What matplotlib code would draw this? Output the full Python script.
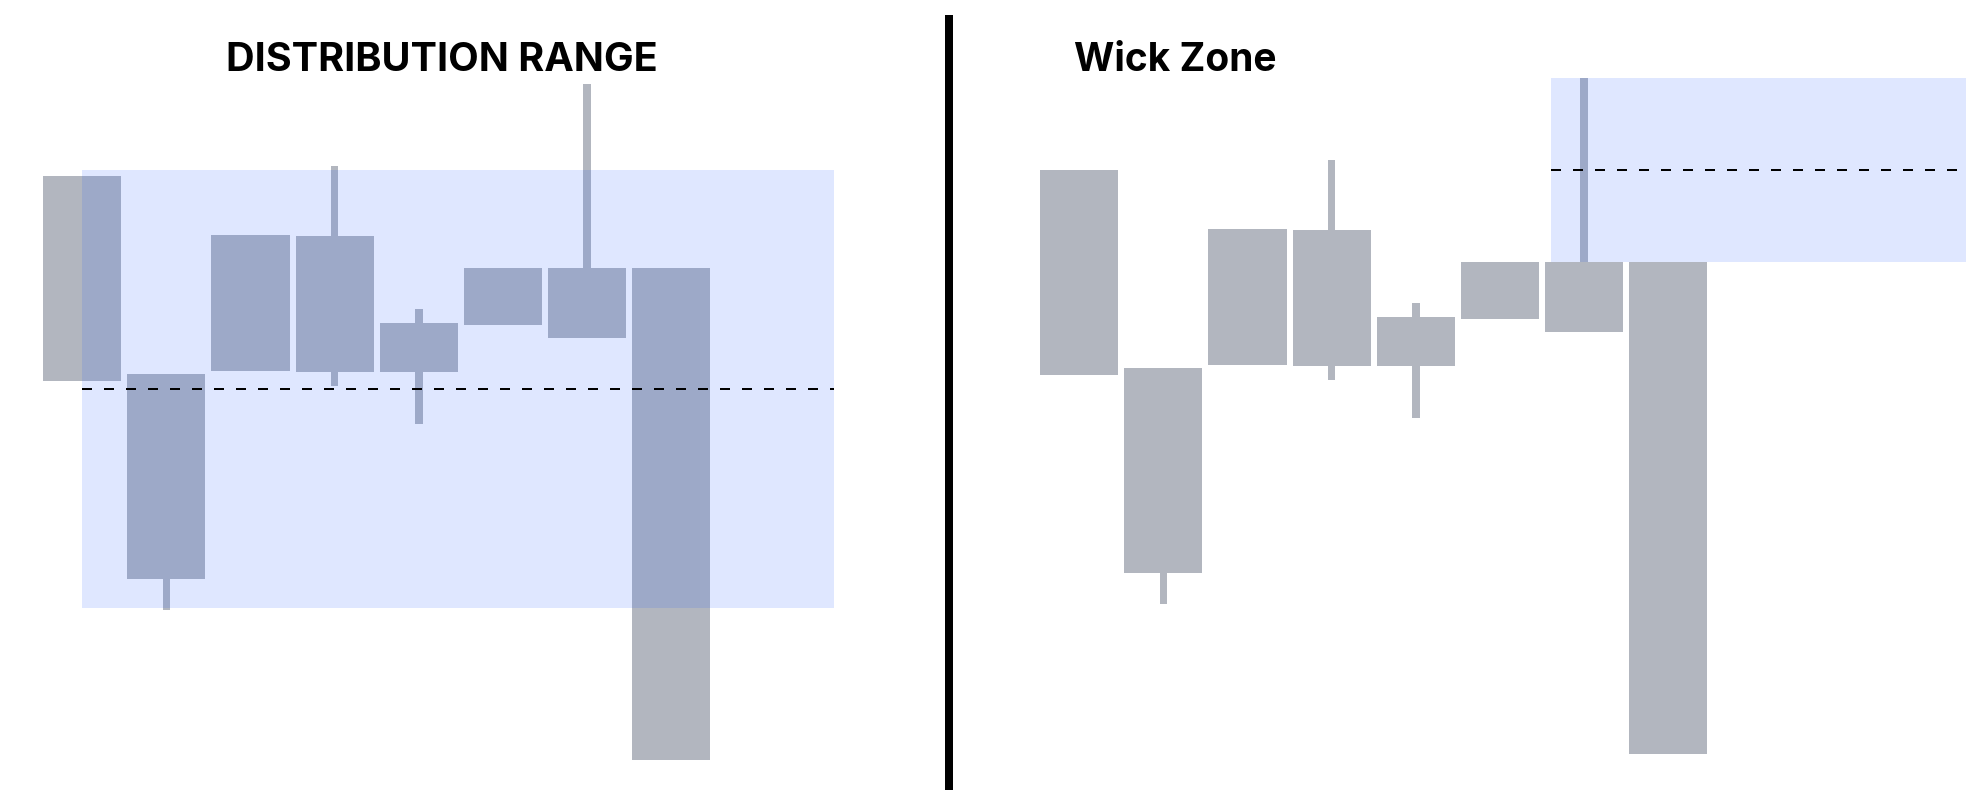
import matplotlib
matplotlib.use('Agg')
import matplotlib.pyplot as plt
from matplotlib.patches import Rectangle
from matplotlib.lines import Line2D

# Candle data (same 8 candles in both panels)
opens = [156.0, 106.5, 107.3, 141.0, 107.1, 118.8, 133.0, 133.0]
closes = [104.8, 55.3, 141.25, 107.1, 119.25, 133.0, 115.6, 10.1]
highs = [156.0, 106.5, 141.25, 158.5, 122.75, 133.0, 179.0, 133.0]
lows = [104.8, 47.5, 107.3, 103.5, 94.0, 118.8, 115.6, 10.1]

# Distribution range box (left panel)
range_top = 157.5
range_bottom = 48.0
range_x = (0.0, 8.93)

# Wick zone box (right panel): upper wick of candle 7
wick_idx = 6
wick_x = (5.61, 10.54)

titles = ["DISTRIBUTION RANGE", "Wick Zone"]

W, H = 1988, 790
CANDLE = '#b2b6bf'
BLUE = '#2962ff'
unit = 84.15         # px per candle slot
x0 = -82.2 / unit

fig = plt.figure(figsize=(W / 100, H / 100), dpi=100)
ax1 = fig.add_axes([0, 0, 950 / W, 1])
ax2 = fig.add_axes([997 / W, 0, 991 / W, 1])


def draw_candles(ax):
    n = len(opens)
    xs = list(range(n))
    ax.bar(xs, [h - l for h, l in zip(highs, lows)], bottom=lows,
           width=0.089, color=CANDLE, zorder=1)
    ax.bar(xs, [abs(c - o) for o, c in zip(opens, closes)],
           bottom=[min(o, c) for o, c in zip(opens, closes)],
           width=0.93, color=CANDLE, zorder=2)


def box(ax, xa, xb, top, bottom):
    ax.add_patch(Rectangle((xa, bottom), xb - xa, top - bottom,
                           facecolor=BLUE, alpha=0.15, lw=0, zorder=3))
    mid = (top + bottom) / 2
    ax.plot([xa, xb], [mid, mid], color='black', lw=1.44,
            dashes=(5, 6), zorder=4)


draw_candles(ax1)
box(ax1, range_x[0], range_x[1], range_top, range_bottom)
ax1.set_xlim(x0, x0 + 950 / unit)
ax1.set_ylim(2.5, 200)

draw_candles(ax2)
zone_top = highs[wick_idx]
zone_bottom = max(opens[wick_idx], closes[wick_idx])
box(ax2, wick_x[0], wick_x[1], zone_top, zone_bottom)
ax2.set_xlim(x0, x0 + 991 / unit)
ax2.set_ylim(1.0, 198.5)

for ax in (ax1, ax2):
    ax.axis('off')

fig.text(441.5 / W, 1 - 71 / H, titles[0], ha='center', va='baseline',
         fontsize=28.5, fontweight='bold', family='Inter')
fig.text(1074 / W, 1 - 71 / H, titles[1], ha='left', va='baseline',
         fontsize=28, fontweight='bold', family='Inter')

# divider
fig.add_artist(Line2D([949 / W, 949 / W], [0, 1 - 15 / H],
                      transform=fig.transFigure, lw=5.76, color='black',
                      solid_capstyle='butt'))

fig.savefig('out.png', dpi=100)
